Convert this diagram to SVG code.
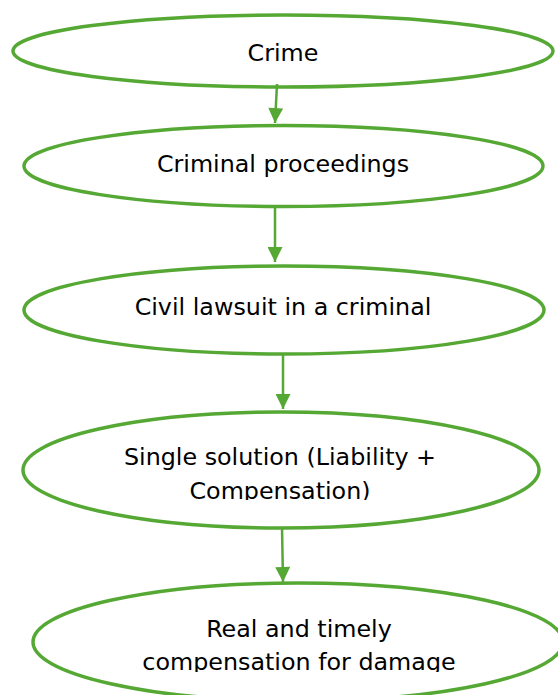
<svg xmlns="http://www.w3.org/2000/svg" width="558" height="695" viewBox="0 0 558 695">
<style>
.n{fill:#fff;stroke:#55a834;stroke-width:3.5}
.t{font-family:"DejaVu Sans",Verdana,sans-serif;font-size:23.8px;fill:#000;text-anchor:middle}
.c{stroke:#55a834;stroke-width:2.5;fill:none;marker-end:url(#ah)}
</style>
<defs>
<marker id="ah" viewBox="0 0 10 10" refX="10" refY="5" markerUnits="userSpaceOnUse" markerWidth="16" markerHeight="15" orient="auto">
<path d="M0,0 L10,5 L0,10 Z" fill="#55a834"/>
</marker>
<clipPath id="c4"><rect x="0" y="400" width="558" height="100"/></clipPath>
<clipPath id="c5"><rect x="0" y="580" width="558" height="92"/></clipPath>
</defs>
<rect width="558" height="695" fill="#fff"/>
<g id="n1"><ellipse class="n" cx="283" cy="51" rx="270" ry="36"/><text class="t" x="283" y="61">Crime</text></g>
<g id="n2"><ellipse class="n" cx="283.5" cy="166" rx="259.5" ry="40.5"/><text class="t" x="283" y="172">Criminal proceedings</text></g>
<g id="n3"><ellipse class="n" cx="284" cy="310" rx="260" ry="44"/><text class="t" x="283" y="315">Civil lawsuit in a criminal</text></g>
<g id="n4"><ellipse class="n" cx="281" cy="470" rx="258" ry="58"/><text class="t" clip-path="url(#c4)"><tspan x="280" y="465">Single solution (Liability +</tspan><tspan x="280" y="499">Compensation)</tspan></text></g>
<g id="n5"><ellipse class="n" cx="298" cy="642" rx="265" ry="59"/><text class="t" clip-path="url(#c5)"><tspan x="299" y="637">Real and timely</tspan><tspan x="299" y="670">compensation for damage</tspan></text></g>
<g id="connectors">
<path class="c" d="M277,84 L275,123"/>
<path class="c" d="M275,207 L275,262"/>
<path class="c" d="M283,354 L283,409"/>
<path class="c" d="M282,527 L283,582"/>
</g>
</svg>
